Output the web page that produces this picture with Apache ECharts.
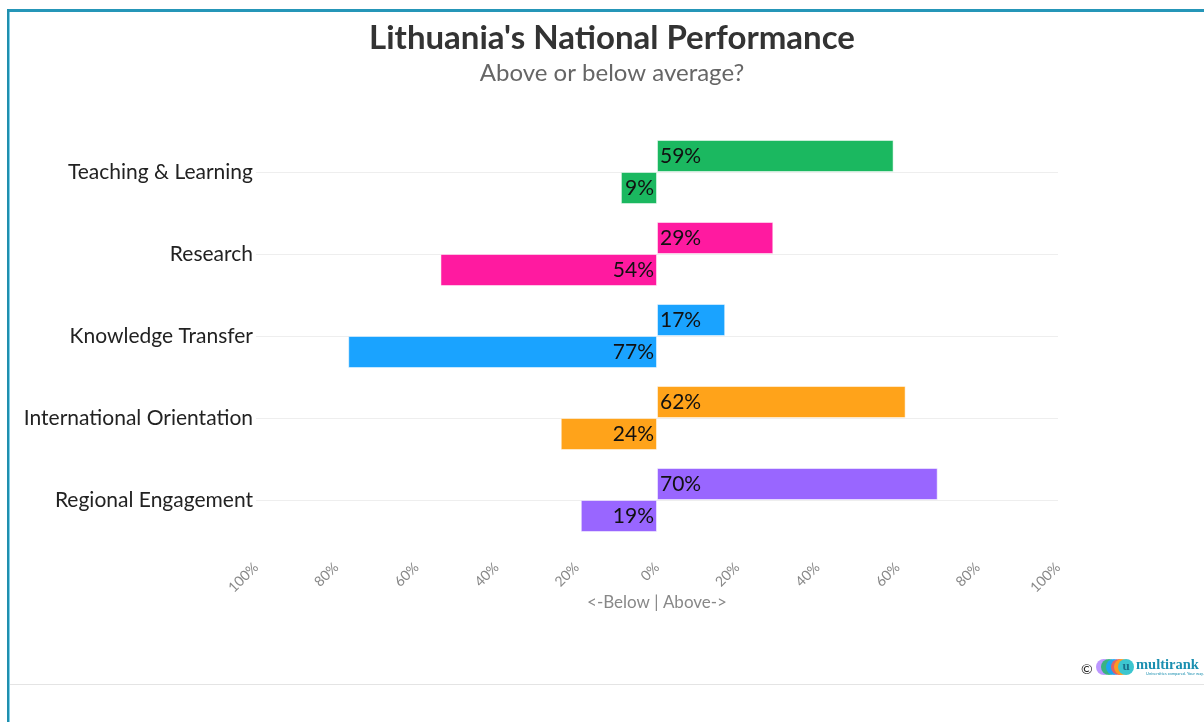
<!DOCTYPE html>
<html>
<head>
<meta charset="utf-8">
<script src="https://cdn.jsdelivr.net/npm/echarts@6/dist/echarts.min.js"></script>
<style>
html,body{margin:0;padding:0;background:#fff;}
#chart{width:1204px;height:722px;}
</style>
</head>
<body>
<div id="chart"></div>
<script>
const categories = ['Teaching & Learning', 'Research', 'Knowledge Transfer', 'International Orientation', 'Regional Engagement'];
const aboveValues = [59, 29, 17, 62, 70];
const belowValues = [9, 54, 77, 24, 19];
const categoryColors = ['#1bb860', '#ff1aa0', '#1aa3ff', '#ffa31a', '#9966ff'];
const xTicks = [-100, -80, -60, -40, -20, 0, 20, 40, 60, 80, 100];
const xAxisTitle = '<-Below | Above->';

const FONT = 'Lato, "Open Sans", sans-serif';
const chart = echarts.init(document.getElementById('chart'));

const labelFmt = p => Math.abs(p.value) + '%';

chart.setOption({
  backgroundColor: '#fff',
  animation: false,
  title: {
    text: "Lithuania's National Performance",
    subtext: 'Above or below average?',
    left: 607, textAlign: 'center', top: 17,
    textStyle: { fontFamily: FONT, fontSize: 33, fontWeight: 'bold', color: '#333' },
    subtextStyle: { fontFamily: FONT, fontSize: 24, color: '#666' },
    itemGap: 6
  },
  grid: { left: 256, right: 146, top: 131, height: 410, containLabel: false },
  xAxis: {
    type: 'value', min: xTicks[0], max: xTicks[xTicks.length - 1], interval: 20,
    axisLine: { show: false }, axisTick: { show: false }, splitLine: { show: false },
    axisLabel: { rotate: 45, margin: 24, color: '#888', fontFamily: FONT, fontSize: 14,
      formatter: v => Math.abs(v) + '%' }
  },
  yAxis: {
    type: 'category', data: categories, inverse: true,
    axisLine: { show: false }, axisTick: { show: false }, splitLine: { show: false },
    axisLabel: { color: '#222', fontFamily: FONT, fontSize: 21, margin: 3 }
  },
  series: [
    {
      name: 'grid', type: 'line', data: categories.map(() => null), silent: true, z: 0,
      markLine: {
        silent: true, symbol: 'none', label: { show: false }, z: 0,
        lineStyle: { color: '#eeeeee', width: 1, type: 'solid' },
        data: categories.map(c => ({ yAxis: c }))
      }
    },
    {
      name: 'Above', type: 'bar', data: aboveValues, barWidth: 32, barGap: '0%',
      itemStyle: { color: p => categoryColors[p.dataIndex], borderColor: 'rgba(255,255,255,0.5)', borderWidth: 1 },
      label: { show: true, position: 'insideLeft', distance: 3, formatter: labelFmt, color: '#111', fontFamily: FONT, fontSize: 21 },
      z: 3
    },
    {
      name: 'Below', type: 'bar', data: belowValues.map(v => -v), barWidth: 32,
      itemStyle: { color: p => categoryColors[p.dataIndex], borderColor: 'rgba(255,255,255,0.5)', borderWidth: 1 },
      label: { show: true, position: 'insideRight', distance: 3, formatter: labelFmt, color: '#111', fontFamily: FONT, fontSize: 21 },
      z: 3
    }
  ],
  graphic: [
    { type: 'text', x: 657, y: 603, style: { text: xAxisTitle, fontSize: 17, fill: '#888', fontFamily: FONT, align: 'center', verticalAlign: 'middle' } },
    { type: 'rect', shape: { x: 8, y: 9, width: 1196, height: 3 }, style: { fill: '#2596b8' } },
    { type: 'rect', shape: { x: 7, y: 9, width: 2, height: 713 }, style: { fill: '#1f8fae' } },
    { type: 'rect', shape: { x: 9, y: 12, width: 1, height: 710 }, style: { fill: '#7fd0ea' } },
    { type: 'rect', shape: { x: 10, y: 684, width: 1194, height: 1 }, style: { fill: '#e4e4e4' } },
    { type: 'text', x: 1081, y: 662, style: { text: '©', fontSize: 14, fill: '#222', fontFamily: FONT } },
    { type: 'circle', shape: { cx: 1104, cy: 667, r: 8 }, style: { fill: '#b58cff', opacity: 0.9 } },
    { type: 'circle', shape: { cx: 1109, cy: 667, r: 8 }, style: { fill: '#2bb673', opacity: 0.9 } },
    { type: 'circle', shape: { cx: 1114, cy: 667, r: 8 }, style: { fill: '#1aa3ff', opacity: 0.9 } },
    { type: 'circle', shape: { cx: 1119, cy: 667, r: 8 }, style: { fill: '#f25a5a', opacity: 0.9 } },
    { type: 'circle', shape: { cx: 1122, cy: 667, r: 8 }, style: { fill: '#ffa31a', opacity: 0.9 } },
    { type: 'circle', shape: { cx: 1126, cy: 667, r: 8 }, style: { fill: '#3cc6cf' } },
    { type: 'text', x: 1126, y: 667, style: { text: 'u', fontSize: 13, fontWeight: 'bold', fill: '#1a6f8a', align: 'center', verticalAlign: 'middle', fontFamily: 'Liberation Serif' } },
    { type: 'text', x: 1136, y: 658, style: { text: 'multirank', fontSize: 14.5, fontWeight: 'bold', fill: '#1a8fb0', fontFamily: 'Liberation Serif' } },
    { type: 'text', x: 1146, y: 672, style: { text: 'Universities compared. Your way.', fontSize: 4, fill: '#1a8fb0', fontFamily: FONT } }
  ]
});
</script>
</body>
</html>
